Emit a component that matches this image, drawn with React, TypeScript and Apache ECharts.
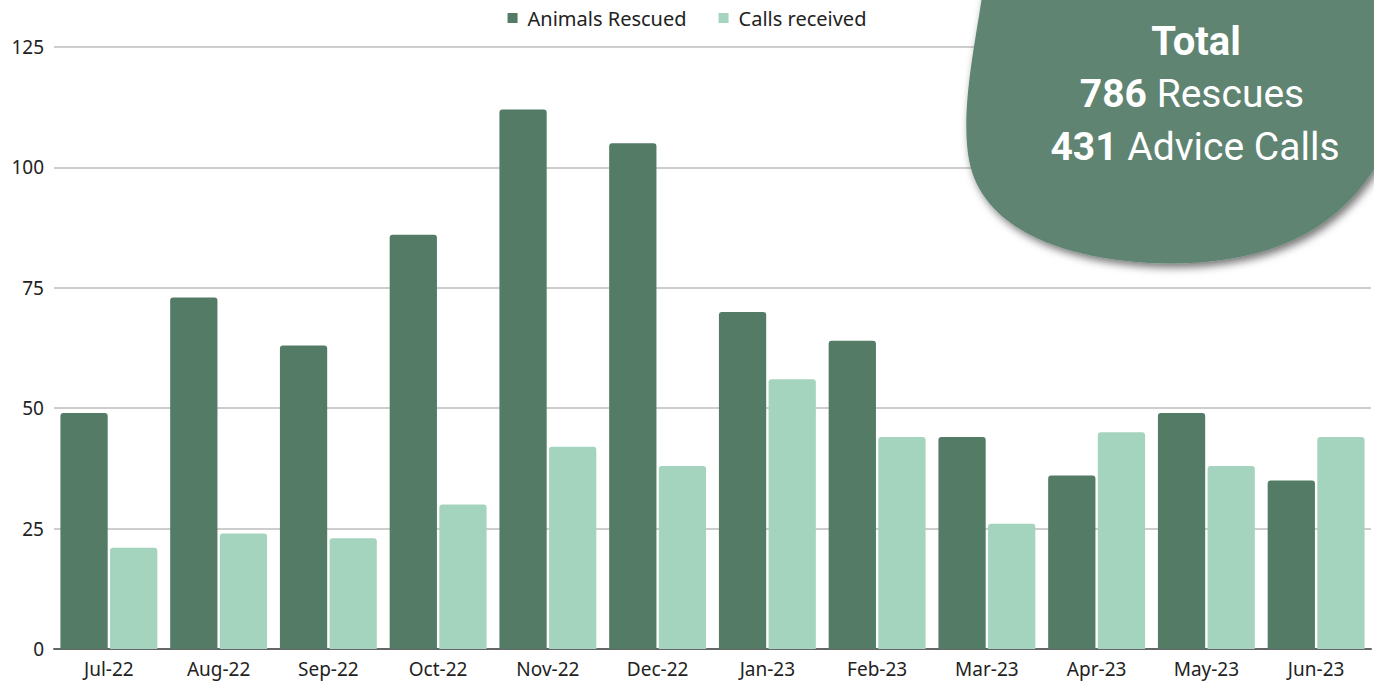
import React, { useEffect, useRef } from "react";
import * as echarts from "echarts";

const months = ["Jul-22", "Aug-22", "Sep-22", "Oct-22", "Nov-22", "Dec-22", "Jan-23", "Feb-23", "Mar-23", "Apr-23", "May-23", "Jun-23"];
const animalsRescued = [49, 73, 63, 86, 112, 105, 70, 64, 44, 36, 49, 35];
const callsReceived = [21, 24, 23, 30, 42, 38, 56, 44, 26, 45, 38, 44];
const totalRescues = 786;
const totalCalls = 431;

const blobPath =
  "M 983 -10 C 976 40 960 110 969 160 C 982 228 1060 258 1150 263 C 1250 267 1338 242 1385 150 L 1385 -10 Z";

let registered = false;

export default function App() {
  const ref = useRef<HTMLDivElement>(null);
  useEffect(() => {
    document.body.style.margin = "0";
    if (!registered) {
      echarts.graphic.registerShape("blob", echarts.graphic.extendPath(blobPath, {}));
      registered = true;
    }
    const chart = echarts.init(ref.current!, null, { renderer: "svg" });
    const font = "'Noto Sans', sans-serif";
    chart.setOption({
      animation: false,
      backgroundColor: "#ffffff",
      legend: {
        top: 3,
        left: "center",
        icon: "rect",
        itemWidth: 10,
        itemHeight: 10,
        itemGap: 32,
        textStyle: { fontSize: 20, color: "#222", fontFamily: font, padding: [0, 0, 0, 5] },
        data: ["Animals Rescued", "Calls received"],
      },
      grid: { left: 54, right: 3, top: 47, bottom: 37, containLabel: false },
      xAxis: {
        type: "category",
        data: months,
        axisTick: { show: false },
        axisLine: { lineStyle: { color: "#666", width: 2 } },
        axisLabel: { fontSize: 19, color: "#222", fontFamily: font, margin: 10 },
      },
      yAxis: {
        type: "value",
        min: 0,
        max: 125,
        interval: 25,
        axisLine: { show: false },
        axisTick: { show: false },
        splitLine: { lineStyle: { color: "#bdbdbd", width: 1.5 } },
        axisLabel: { fontSize: 19, color: "#222", fontFamily: font, margin: 10 },
      },
      series: [
        {
          name: "Animals Rescued",
          type: "bar",
          data: animalsRescued,
          barGap: "5%",
          barCategoryGap: "11.7%",
          itemStyle: { color: "#537b65", borderRadius: [3, 3, 0, 0] },
        },
        {
          name: "Calls received",
          type: "bar",
          data: callsReceived,
          itemStyle: { color: "#a5d4be", borderRadius: [3, 3, 0, 0] },
        },
      ],
      graphic: [
        {
          type: "blob",
          x: 0,
          y: 0,
          z: 100,
          style: {
            fill: "#5e8472",
            shadowBlur: 8,
            shadowOffsetX: 3,
            shadowOffsetY: 4,
            shadowColor: "rgba(0,0,0,0.55)",
          },
        },
        {
          type: "text",
          x: 1196,
          y: 41,
          z: 101,
          style: {
            text: "Total",
            fill: "#fff",
            font: "bold 40px Roboto, sans-serif",
            align: "center",
            verticalAlign: "middle",
          },
        },
        {
          type: "text",
          x: 1192,
          y: 94,
          z: 101,
          style: {
            text: "{b|" + totalRescues + "} Rescues",
            fill: "#fff",
            font: "39px Roboto, sans-serif",
            align: "center",
            verticalAlign: "middle",
            rich: { b: { fontWeight: "bold", fontSize: 39, fontFamily: "Roboto, sans-serif", fill: "#fff" } },
          },
        },
        {
          type: "text",
          x: 1195,
          y: 147,
          z: 101,
          style: {
            text: "{b|" + totalCalls + "} Advice Calls",
            fill: "#fff",
            font: "39px Roboto, sans-serif",
            align: "center",
            verticalAlign: "middle",
            rich: { b: { fontWeight: "bold", fontSize: 39, fontFamily: "Roboto, sans-serif", fill: "#fff" } },
          },
        },
      ],
    });
    return () => chart.dispose();
  }, []);
  return <div ref={ref} style={{ width: 1374, height: 686 }} />;
}
